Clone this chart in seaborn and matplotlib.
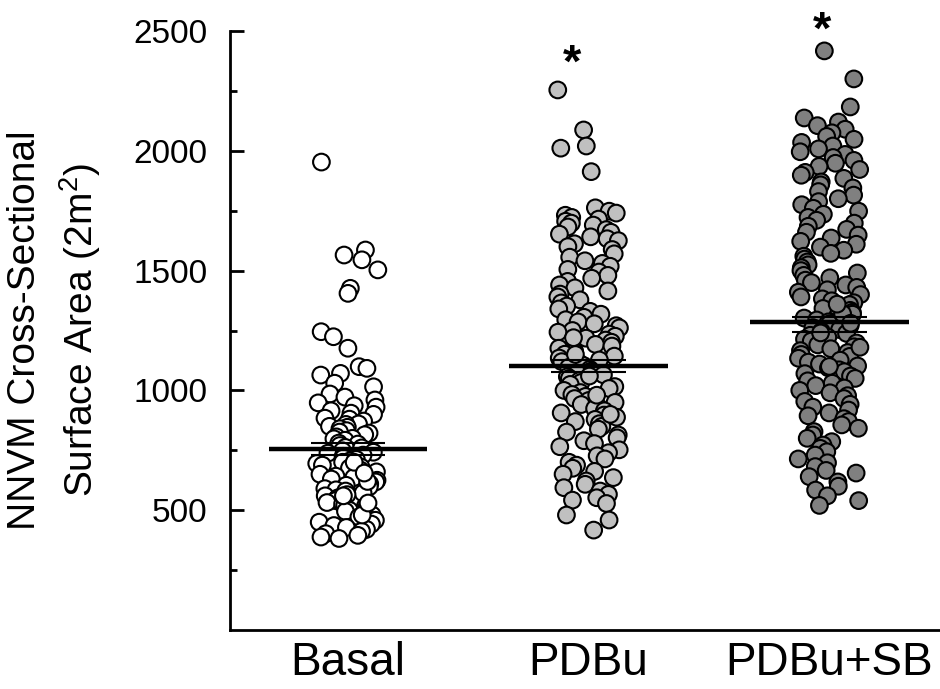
import numpy as np
import pandas as pd
import matplotlib
matplotlib.use("Agg")
import matplotlib.pyplot as plt
import seaborn as sns

categories = ["Basal", "PDBu", "PDBu+SB"]

basal = [1953, 1586, 1565, 1545, 1503, 1426, 1405, 1245, 1224, 1176,
         1099, 1092, 1071, 1064, 1030, 1015, 985, 972, 960, 948, 936, 930,
         915, 905, 900, 884, 880, 872, 860, 858, 850, 846, 840, 832, 826,
         822, 815, 806, 800, 798, 792, 780, 776, 770, 762, 760, 748, 742,
         738, 730, 725, 718, 712, 705, 700, 695, 688, 680, 676, 668, 660,
         655, 650, 642, 636, 630, 625, 618, 610, 604, 598, 590, 585, 580,
         572, 565, 560, 552, 548, 540, 532, 526, 520, 515, 508, 500, 495,
         488, 480, 472, 466, 458, 450, 442, 436, 428, 420, 412, 402, 395,
         388, 382, 620, 560, 700, 480, 530, 655]

pdbu = [2254, 2087, 2020, 2011, 1913,
        1762, 1748, 1740, 1731, 1722, 1715, 1706, 1698, 1690, 1682, 1671,
        1660, 1652, 1641, 1633, 1625, 1612, 1600, 1588, 1570, 1556, 1541,
        1530, 1518, 1505, 1494, 1480, 1468, 1455, 1440, 1428, 1415, 1402,
        1390, 1378, 1365, 1352, 1340, 1330, 1318, 1305, 1295, 1286, 1278,
        1270, 1261, 1250, 1243, 1235, 1226, 1218, 1210, 1201, 1192, 1185,
        1176, 1168, 1160, 1151, 1143, 1135, 1127, 1120, 1112, 1104, 1096,
        1088, 1080, 1072, 1065, 1057, 1050, 1041, 1033, 1025, 1016, 1008,
        1000, 991, 983, 975, 966, 958, 950, 941, 932, 924, 915, 906, 897,
        888, 879, 870, 861, 850, 838, 826, 814, 802, 790, 778, 765, 752,
        740, 727, 714, 700, 688, 675, 662, 650, 636, 622, 608, 594, 580,
        566, 552, 542, 528, 480, 459, 417, 1150, 1060, 980, 1220, 900]

pdbu_sb = [2417, 2300, 2183, 2137, 2120, 2105, 2090, 2075, 2060, 2048,
           2035, 2020, 2008, 1996, 1985, 1972, 1960, 1948, 1935, 1922,
           1910, 1898, 1885, 1870, 1858, 1845, 1830, 1815, 1800, 1788,
           1775, 1760, 1748, 1735, 1722, 1710, 1698, 1685, 1672, 1660,
           1648, 1636, 1622, 1610, 1598, 1585, 1572, 1560, 1548, 1536,
           1524, 1512, 1500, 1490, 1480, 1470, 1460, 1450, 1440, 1430,
           1420, 1410, 1400, 1390, 1382, 1374, 1366, 1358, 1350, 1342,
           1334, 1326, 1318, 1310, 1302, 1294, 1286, 1278, 1270, 1262,
           1254, 1246, 1238, 1230, 1222, 1214, 1206, 1198, 1190, 1182,
           1174, 1166, 1158, 1150, 1142, 1134, 1126, 1118, 1110, 1102,
           1094, 1086, 1078, 1070, 1060, 1050, 1040, 1030, 1020, 1010,
           1000, 990, 978, 966, 954, 942, 930, 918, 906, 894,
           882, 870, 856, 842, 828, 814, 800, 786, 772, 758,
           744, 730, 714, 698, 682, 666, 655, 640, 618, 600,
           584, 560, 540, 520, 1320, 1280, 1240, 1180, 1360, 1100]

means = [755, 1102, 1286]
sem_low = [730, 1077, 1244]
sem_high = [780, 1125, 1308]
colors = ["#ffffff", "#c0c0c0", "#808080"]
major_ticks = [500, 1000, 1500, 2000, 2500]
minor_ticks = [250, 750, 1250, 1750, 2250]
star_pos = [(0.93, 2360), (1.97, 2495)]
ylabel = "NNVM Cross-Sectional\nSurface Area (2m$^{2}$)"

sns.set_style("ticks")
plt.rcParams["font.family"] = ["Liberation Sans", "DejaVu Sans"]
plt.rcParams["mathtext.fontset"] = "custom"
plt.rcParams["mathtext.rm"] = "Liberation Sans"
for key in ["text.color", "axes.labelcolor", "xtick.color", "ytick.color",
            "axes.edgecolor"]:
    plt.rcParams[key] = "black"

df = pd.DataFrame({
    "group": ["Basal"] * len(basal) + ["PDBu"] * len(pdbu) + ["PDBu+SB"] * len(pdbu_sb),
    "value": basal + pdbu + pdbu_sb,
})

fig = plt.figure(figsize=(9.4, 6.89), dpi=100)
ax = fig.add_axes([230 / 940, 1 - 630 / 689, 710 / 940, 599 / 689])

np.random.seed(7)
sns.stripplot(data=df, x="group", y="value", hue="group", order=categories,
              hue_order=categories, palette=dict(zip(categories, colors)),
              jitter=0.13, size=12, linewidth=1.5, edgecolor="black",
              legend=False, ax=ax, zorder=2)

pos = np.arange(len(categories))
ax.hlines(means, pos - 0.33, pos + 0.33, colors="black", lw=3.2, zorder=4)
ax.hlines(sem_low, pos - 0.155, pos + 0.155, colors="black", lw=1.5, zorder=4)
ax.hlines(sem_high, pos - 0.155, pos + 0.155, colors="black", lw=1.5, zorder=4)

for x, y in star_pos:
    ax.text(x, y, "*", ha="center", va="center", fontsize=34,
            fontweight="bold", clip_on=False)

ax.set_ylim(0, 2500)
ax.set_xlim(-0.49, 2.46)
ax.set_yticks(major_ticks)
ax.set_yticks(minor_ticks, minor=True)
ax.set_xlabel("")
ax.set_ylabel("")
for s in ["top", "right"]:
    ax.spines[s].set_visible(False)
for s in ["left", "bottom"]:
    ax.spines[s].set_linewidth(2)
ax.tick_params(axis="y", which="major", direction="in", length=10, width=2,
               labelsize=24, pad=16)
ax.tick_params(axis="y", which="minor", direction="in", length=5, width=2)
ax.tick_params(axis="x", length=0, labelsize=33, pad=8)

fig.text(55 / 940, 1 - 330 / 689, ylabel, rotation=90, ha="center",
         va="center", multialignment="center", fontsize=28, linespacing=1.4)

fig.savefig("out.png", dpi=100)
